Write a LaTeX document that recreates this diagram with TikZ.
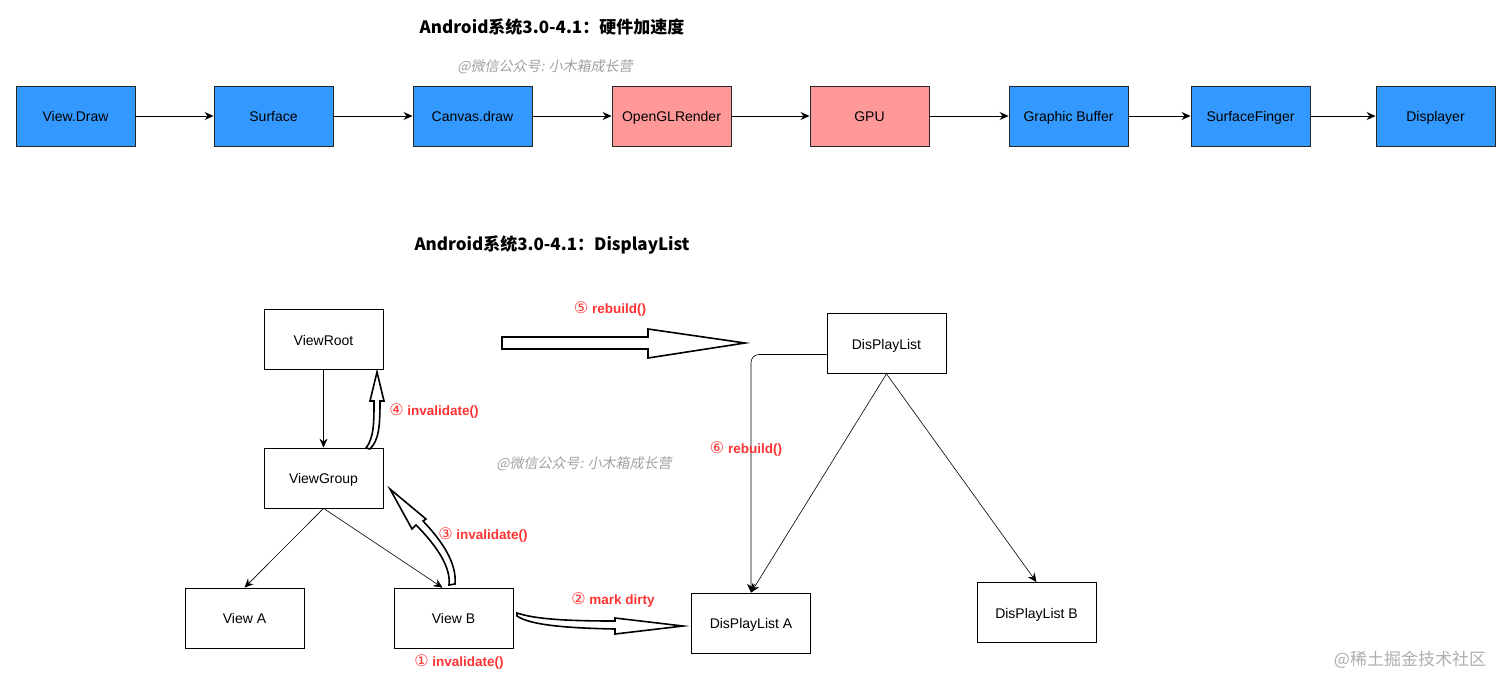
\documentclass[tikz,border=0pt]{standalone}
\usepackage{fontspec}
\setmainfont{Liberation Sans}
\newfontfamily\cjk{Noto Sans CJK SC}
\newfontfamily\cjkslant[FakeSlant=0.2]{Noto Sans CJK SC}
\newfontfamily\circfont{DejaVu Sans}
\usepackage{xcolor}
\usepackage{tikz}
\usetikzlibrary{arrows.meta}
\definecolor{boxblue}{HTML}{3399FF}
\definecolor{boxpink}{HTML}{FF9999}
\definecolor{labelred}{HTML}{FF3333}
\definecolor{markgray}{HTML}{A0A0A0}
\newcommand{\circnum}[1]{{\circfont\mdseries\fontsize{16}{16}\selectfont #1}}

\tikzset{
  stagebox/.style={draw=black!85, line width=0.9pt, minimum width=119pt, minimum height=60pt, inner sep=0pt, text height=11pt, text depth=0pt, font=\fontsize{14}{16}\selectfont},
  bluebox/.style={stagebox, fill=boxblue},
  pinkbox/.style={stagebox, fill=boxpink},
  viewbox/.style={draw=black, line width=0.7pt, minimum width=119pt, minimum height=60pt, inner sep=0pt, text height=11pt, text depth=0pt, font=\fontsize{14}{16}\selectfont},
  flow/.style={-{Stealth[length=9pt,width=8pt,inset=3pt]}, line width=1pt},
  link/.style={-{Stealth[length=9pt,width=8pt,inset=3pt]}, line width=0.6pt},
  flex/.style={draw=black, line width=1.6pt, fill=white, line join=miter},
  steplabel/.style={text=labelred, font=\fontsize{13.5}{15}\selectfont\bfseries},
  watermark/.style={text=markgray, font=\fontsize{14}{16}\selectfont\cjkslant},
  title/.style={font=\fontsize{17}{19}\selectfont\cjk\bfseries}
}

\begin{document}
\begin{tikzpicture}[x=1pt,y=-1pt]
\useasboundingbox (0,0) rectangle (1512,689);

% hardware acceleration pipeline
\node[title] (t1) at (552,27) {Android系统3.0-4.1：硬件加速度};
\node[watermark] (w1) at (545,67) {@微信公众号: 小木箱成长营};
\node[bluebox] (vd) at (75.5,116) {View.Draw};
\node[bluebox] (sf) at (273.5,116) {Surface};
\node[bluebox] (cd) at (472.5,116) {Canvas.draw};
\node[pinkbox] (gl) at (671.5,116) {OpenGLRender};
\node[pinkbox] (gpu) at (869.5,116) {GPU};
\node[bluebox] (gb) at (1068.5,116) {Graphic Buffer};
\node[bluebox] (sfl) at (1250.5,116) {SurfaceFinger};
\node[bluebox] (dp) at (1435.5,116) {Displayer};
\draw[flow] (vd) -- (sf);
\draw[flow] (sf) -- (cd);
\draw[flow] (cd) -- (gl);
\draw[flow] (gl) -- (gpu);
\draw[flow] (gpu) -- (gb);
\draw[flow] (gb) -- (sfl);
\draw[flow] (sfl) -- (dp);

% display list
\node[title] (t2) at (552,245) {Android系统3.0-4.1：DisplayList};
\node[watermark] (w2) at (584,464) {@微信公众号: 小木箱成长营};
\node[viewbox] (vR) at (323.5,339.5) {ViewRoot};
\node[viewbox] (vG) at (323.5,478) {ViewGroup};
\node[viewbox] (vA) at (244.5,618) {View A};
\node[viewbox] (vB) at (453.5,618) {View B};
\node[viewbox] (dl) at (886.5,343.5) {DisPlayList};
\node[viewbox] (dA) at (751,623) {DisPlayList A};
\node[viewbox] (dB) at (1036.5,612.5) {DisPlayList B};
\draw[link] (vR) -- (vG);
\draw[link] (vG.south) -- (vA.north);
\draw[link] (vG.south) -- ([xshift=-11pt]vB.north);
\draw[link] (dl.south) -- (dA.north);
\draw[link] (dl.south) -- (dB.north);
\draw[link, rounded corners=8pt] ([yshift=-11pt]dl.west) -| (dA.north);

% hollow arrows
\draw[flex] (502,337) -- (648,337) -- (648,329) -- (745,343) -- (648,358) -- (648,349) -- (502,349) -- cycle;
\draw[flex] (366,448) .. controls (374,438) and (374,422) .. (374,401) -- (370,401) -- (377,372) -- (384,401) -- (380,401) .. controls (380,426) and (379,440) .. (370,449) -- cycle;
\draw[flex] (449,585) .. controls (451,568) and (438,547) .. (416,525) -- (412,529) -- (390,489) -- (426,519) -- (423,521) .. controls (442,541) and (457,563) .. (455,584) -- cycle;
\draw[flex] (517,613) .. controls (535,619) and (565,621) .. (615,621) -- (615,618) -- (683,626) -- (615,634) -- (615,629) .. controls (565,628) and (530,625) .. (517,616) -- cycle;

\node[steplabel] (s5) at (610,309) {\circnum{⑤} rebuild()};
\node[steplabel] (s4) at (434,411) {\circnum{④} invalidate()};
\node[steplabel] (s6) at (746,449) {\circnum{⑥} rebuild()};
\node[steplabel] (s3) at (483,535) {\circnum{③} invalidate()};
\node[steplabel] (s2) at (613,600) {\circnum{②} mark dirty};
\node[steplabel] (s1) at (459,662) {\circnum{①} invalidate()};

\node[text=markgray!85, font=\fontsize{17}{19}\selectfont\cjk] (w3) at (1410,660) {@稀土掘金技术社区};
\end{tikzpicture}
\end{document}
